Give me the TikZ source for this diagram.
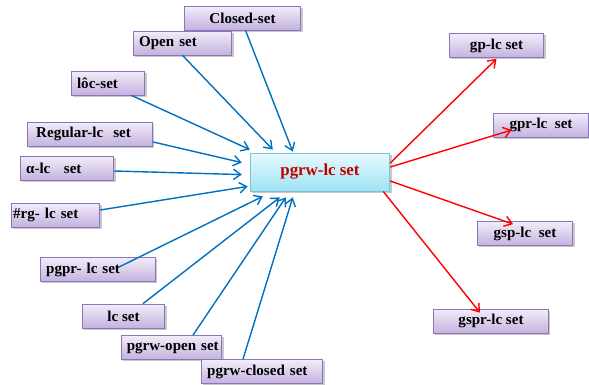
\documentclass[tikz,border=0pt]{standalone}
\usepackage{fontspec}
\setmainfont{Liberation Serif}
\usetikzlibrary{arrows.meta,calc,shadows}
\definecolor{lavtop}{HTML}{F2EDF9}
\definecolor{lavbot}{HTML}{C4B2DF}
\definecolor{lavline}{HTML}{8C76BA}
\definecolor{skytop}{HTML}{E8FAFE}
\definecolor{skybot}{HTML}{9EE2F3}
\definecolor{skyline}{HTML}{7AC4D8}
\definecolor{darkred}{HTML}{C00000}
\definecolor{linkblue}{HTML}{0070C0}

\begin{document}
\begin{tikzpicture}[x=0.025cm,y=-0.025cm,
  setbox/.style={draw=lavline,line width=0.6pt,top color=lavtop,bottom color=lavbot,minimum height=17pt,inner xsep=4.25pt,inner ysep=2pt,font=\bfseries\fontsize{10.7}{12}\selectfont,drop shadow={shadow xshift=1.2pt,shadow yshift=-1.2pt,opacity=0.3,fill=black!70}},
  cbox/.style={setbox,minimum width=#1},
  lbox/.style={setbox,text width=#1,align=left},
  inlink/.style={-{Straight Barb[length=1.8mm,width=2.6mm]},line width=1pt,linkblue},
  outlink/.style={-{Straight Barb[length=1.8mm,width=2.6mm]},line width=1pt,red}]
\useasboundingbox (0,0) rectangle (589,385);
% sources on the left
\node[cbox=83pt] (closed) at (242.5,18) {Closed-set};
\node[lbox=61.7pt] (open) at (182.5,43) {Open set};
\node[lbox=44pt] (loc) at (108,83) {lôc-set};
\node[lbox=76.5pt,inner xsep=6.4pt] (regular) at (90,134) {Regular-lc~~set};
\node[lbox=58.1pt] (alpha) at (67,168) {α-lc\hspace{0.9em}set};
\node[lbox=60.2pt,inner xsep=1.45pt] (rg) at (55.5,215) {\#rg- lc set};
\node[lbox=73.7pt] (pgpr) at (98,269.5) {pgpr- lc set};
\node[cbox=58.8pt] (lc) at (123.5,316) {lc set};
\node[lbox=67.6pt,inner xsep=2pt] (pwopen) at (171.5,347.5) {\hspace{2pt}pgrw-open set};
\node[lbox=78pt] (pwclosed) at (262,371.5) {pgrw-closed set};
% centre
\node[draw=skyline,line width=0.6pt,top color=skytop,bottom color=skybot,minimum width=99.3pt,minimum height=27pt,font=\bfseries\fontsize{12}{13}\selectfont,text=darkred,drop shadow={shadow xshift=1.2pt,shadow yshift=-1.2pt,opacity=0.3,fill=black!70}] (pgrw) at (320,172) {pgrw-lc set};
% targets on the right
\node[cbox=67.4pt] (gp) at (496.5,45.5) {gp-lc set};
\node[cbox=68pt] (gpr) at (541,125) {gpr-lc~~set};
\node[cbox=68pt] (gsp) at (525,233.5) {gsp-lc~~set};
\node[cbox=82.2pt] (gspr) at (491,321) {gspr-lc set};
% blue links into the centre
\draw[inlink] ($(closed.south)+(3,0)$) -- ($(pgrw.north west)+(43,-1)$);
\draw[inlink] (open.south) -- ($(pgrw.north west)+(23,-3)$);
\draw[inlink] ($(loc.south east)+(-14,0)$) -- ($(pgrw.north west)+(0,-3)$);
\draw[inlink] ($(regular.east)+(0,8)$) -- ($(pgrw.north west)+(-8,10)$);
\draw[inlink] ($(alpha.east)+(0,3)$) -- ($(pgrw.north west)+(-8,22)$);
\draw[inlink] ($(rg.east)+(0,-5)$) -- ($(pgrw.south west)+(-2,-5)$);
\draw[inlink] ($(pgpr.center)+(20,-2)$) -- ($(pgrw.south west)+(13,5)$);
\draw[inlink] ($(lc.north)+(19.5,0)$) -- ($(pgrw.south west)+(30,6)$);
\draw[inlink] ($(pwopen.north)+(21.5,0)$) -- ($(pgrw.south west)+(36,6)$);
\draw[inlink] ($(pwclosed.north)+(-19,0)$) -- ($(pgrw.south west)+(43,6)$);
% red links out of the centre
\draw[outlink] ($(pgrw.east)+(0,-9)$) -- ($(gp.south)+(0,1)$);
\draw[outlink] ($(pgrw.east)+(0,-5)$) -- ($(gpr.west)+(19,5)$);
\draw[outlink] ($(pgrw.east)+(0,9)$) -- ($(gsp.north)+(-12,3)$);
\draw[outlink] ($(pgrw.south east)+(-7,0)$) -- ($(gspr.north)+(-11,4)$);
\end{tikzpicture}
\end{document}
